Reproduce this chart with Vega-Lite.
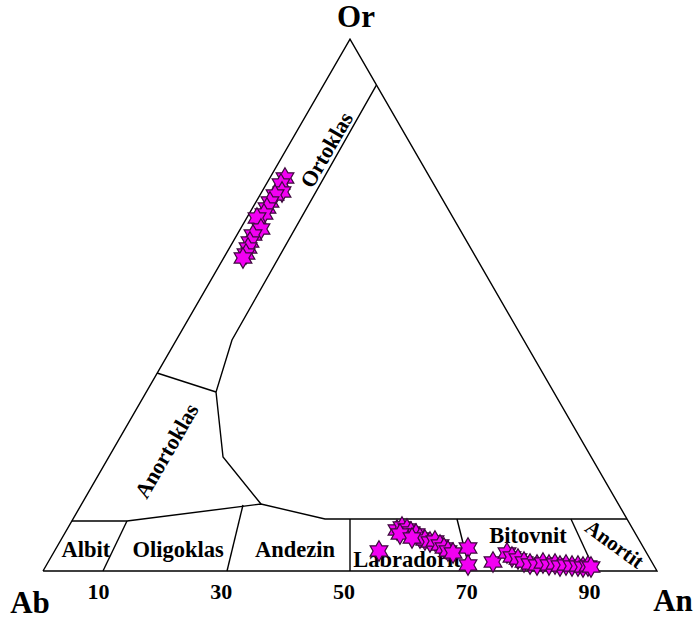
{
  "$schema": "https://vega.github.io/schema/vega-lite/v6.json",
  "width": 693,
  "height": 623,
  "autosize": "none",
  "padding": 0,
  "background": "white",
  "config": {"view": {"stroke": null}},
  "datasets": {
    "fields": [
      {"seg": "triangle", "i": 0, "x": 0, "y": 0},
      {"seg": "triangle", "i": 1, "x": 100, "y": 0},
      {"seg": "triangle", "i": 2, "x": 50, "y": 86.64},
      {"seg": "triangle", "i": 3, "x": 0, "y": 0},
      {"seg": "ortoklas", "i": 0, "x": 54.3, "y": 79.15},
      {"seg": "ortoklas", "i": 1, "x": 30.78, "y": 37.62},
      {"seg": "ortoklas", "i": 2, "x": 28.18, "y": 29.15},
      {"seg": "ortoklas", "i": 3, "x": 29.32, "y": 18.57},
      {"seg": "ortoklas", "i": 4, "x": 35.5, "y": 10.91},
      {"seg": "anortoklas", "i": 0, "x": 18.57, "y": 32.25},
      {"seg": "anortoklas", "i": 1, "x": 28.18, "y": 29.15},
      {"seg": "plagioklas", "i": 0, "x": 4.7, "y": 8.14},
      {"seg": "plagioklas", "i": 1, "x": 13.68, "y": 8.14},
      {"seg": "plagioklas", "i": 2, "x": 35.5, "y": 10.91},
      {"seg": "plagioklas", "i": 3, "x": 45.93, "y": 8.47},
      {"seg": "plagioklas", "i": 4, "x": 95.11, "y": 8.47},
      {"seg": "ab-ol", "i": 0, "x": 13.68, "y": 8.14},
      {"seg": "ab-ol", "i": 1, "x": 9.77, "y": 0},
      {"seg": "ol-ad", "i": 0, "x": 32.57, "y": 10.75},
      {"seg": "ol-ad", "i": 1, "x": 29.97, "y": 0},
      {"seg": "ad-lb", "i": 0, "x": 50, "y": 8.47},
      {"seg": "ad-lb", "i": 1, "x": 50, "y": 0},
      {"seg": "lb-bt", "i": 0, "x": 67.43, "y": 8.47},
      {"seg": "lb-bt", "i": 1, "x": 69.54, "y": 0},
      {"seg": "bt-an", "i": 0, "x": 85.99, "y": 8.47},
      {"seg": "bt-an", "i": 1, "x": 89.9, "y": 0}
    ],
    "samples": [
      {"group": "Ortoklas", "x": 39.41, "y": 64.01},
      {"group": "Ortoklas", "x": 38.76, "y": 63.03},
      {"group": "Ortoklas", "x": 38.93, "y": 61.73},
      {"group": "Ortoklas", "x": 37.79, "y": 61.24},
      {"group": "Ortoklas", "x": 36.97, "y": 60.1},
      {"group": "Ortoklas", "x": 36.48, "y": 59.12},
      {"group": "Ortoklas", "x": 35.99, "y": 58.14},
      {"group": "Ortoklas", "x": 34.85, "y": 57.49},
      {"group": "Ortoklas", "x": 35.5, "y": 55.7},
      {"group": "Ortoklas", "x": 34.2, "y": 54.72},
      {"group": "Ortoklas", "x": 33.71, "y": 53.58},
      {"group": "Ortoklas", "x": 33.39, "y": 52.61},
      {"group": "Ortoklas", "x": 33.06, "y": 51.63},
      {"group": "Ortoklas", "x": 32.57, "y": 50.98},
      {"group": "Labradorit", "x": 54.72, "y": 3.26},
      {"group": "Labradorit", "x": 57.65, "y": 6.68},
      {"group": "Labradorit", "x": 58.47, "y": 7.17},
      {"group": "Labradorit", "x": 59.28, "y": 6.84},
      {"group": "Labradorit", "x": 59.93, "y": 6.35},
      {"group": "Labradorit", "x": 60.75, "y": 6.03},
      {"group": "Labradorit", "x": 61.4, "y": 5.37},
      {"group": "Labradorit", "x": 62.21, "y": 5.05},
      {"group": "Labradorit", "x": 63.03, "y": 4.72},
      {"group": "Labradorit", "x": 63.84, "y": 4.89},
      {"group": "Labradorit", "x": 64.66, "y": 4.23},
      {"group": "Labradorit", "x": 65.31, "y": 3.75},
      {"group": "Labradorit", "x": 65.96, "y": 3.26},
      {"group": "Labradorit", "x": 66.78, "y": 2.93},
      {"group": "Labradorit", "x": 69.22, "y": 3.75},
      {"group": "Labradorit", "x": 69.22, "y": 0.98},
      {"group": "Labradorit", "x": 58.14, "y": 6.03},
      {"group": "Labradorit", "x": 60.1, "y": 5.37},
      {"group": "Bitovnit", "x": 73.29, "y": 1.47},
      {"group": "Bitovnit", "x": 75.57, "y": 2.93},
      {"group": "Bitovnit", "x": 76.38, "y": 2.28},
      {"group": "Bitovnit", "x": 77.36, "y": 1.95},
      {"group": "Bitovnit", "x": 78.34, "y": 1.47},
      {"group": "Bitovnit", "x": 79.32, "y": 1.14},
      {"group": "Bitovnit", "x": 80.46, "y": 0.98},
      {"group": "Bitovnit", "x": 81.43, "y": 1.3},
      {"group": "Bitovnit", "x": 82.41, "y": 0.98},
      {"group": "Bitovnit", "x": 83.39, "y": 1.14},
      {"group": "Bitovnit", "x": 84.2, "y": 0.81},
      {"group": "Bitovnit", "x": 85.18, "y": 0.98},
      {"group": "Bitovnit", "x": 86.16, "y": 0.81},
      {"group": "Bitovnit", "x": 87.13, "y": 0.81},
      {"group": "Bitovnit", "x": 87.95, "y": 0.65},
      {"group": "Bitovnit", "x": 88.76, "y": 0.81},
      {"group": "Bitovnit", "x": 89.25, "y": 0.65}
    ]
  },
  "encoding": {
    "x": {"field": "x", "type": "quantitative", "axis": null,
          "scale": {"domain": [-7.003, 105.863], "nice": false, "zero": false}},
    "y": {"field": "y", "type": "quantitative", "axis": null,
          "scale": {"domain": [-8.47, 93.0], "nice": false, "zero": false}}
  },
  "layer": [
    {
      "data": {"name": "fields"},
      "mark": {"type": "line", "color": "black", "strokeWidth": 1.4, "clip": false},
      "encoding": {
        "detail": {"field": "seg"},
        "order": {"field": "i", "type": "quantitative"}
      }
    },
    {
      "data": {"values": [
        {"label": "10", "x": 10, "y": -3.42},
        {"label": "30", "x": 30, "y": -3.42},
        {"label": "50", "x": 50, "y": -3.42},
        {"label": "70", "x": 70, "y": -3.42},
        {"label": "90", "x": 90, "y": -3.42}
      ]},
      "mark": {"type": "text", "font": "Liberation Serif", "fontWeight": "bold", "fontSize": 22, "dx": -6, "baseline": "middle", "color": "black"},
      "encoding": {"text": {"field": "label"}}
    },
    {
      "data": {"values": [
        {"label": "Or", "x": 50.98, "y": 90.07},
        {"label": "Ab", "x": -2.12, "y": -5.3},
        {"label": "An", "x": 102.6, "y": -5.1}
      ]},
      "mark": {"type": "text", "font": "Liberation Serif", "fontWeight": "bold", "fontSize": 31, "baseline": "middle", "color": "black"},
      "encoding": {"text": {"field": "label"}}
    },
    {
      "data": {"values": [
        {"label": "Albit", "x": 7.0, "y": 3.42},
        {"label": "Oligoklas", "x": 21.99, "y": 3.42},
        {"label": "Andezin", "x": 41.04, "y": 3.42},
        {"label": "Labradorit", "x": 59.28, "y": 1.79},
        {"label": "Bitovnit", "x": 78.99, "y": 5.7}
      ]},
      "mark": {"type": "text", "font": "Liberation Serif", "fontWeight": "bold", "fontSize": 22.5, "baseline": "middle", "color": "black"},
      "encoding": {"text": {"field": "label"}}
    },
    {
      "data": {"values": [
        {"label": "Ortoklas", "x": 46.25, "y": 68.57},
        {"label": "Anortoklas", "x": 20.2, "y": 19.54}
      ]},
      "mark": {"type": "text", "font": "Liberation Serif", "fontWeight": "bold", "fontSize": 22, "angle": 300, "baseline": "middle", "color": "black"},
      "encoding": {"text": {"field": "label"}}
    },
    {
      "data": {"values": [
        {"label": "Anortit", "x": 93.0, "y": 4.23}
      ]},
      "mark": {"type": "text", "font": "Liberation Serif", "fontWeight": "bold", "fontSize": 21, "angle": 36, "baseline": "middle", "color": "black"},
      "encoding": {"text": {"field": "label"}}
    },
    {
      "data": {"name": "samples"},
      "mark": {
        "type": "point",
        "shape": "M0,-1L0.289,-0.5L0.866,-0.5L0.577,0L0.866,0.5L0.289,0.5L0,1L-0.289,0.5L-0.866,0.5L-0.577,0L-0.866,-0.5L-0.289,-0.5Z",
        "size": 420,
        "filled": true,
        "fill": "#f200f2",
        "stroke": "#3d0a3d",
        "strokeWidth": 1.2,
        "opacity": 1,
        "clip": false
      },
      "encoding": {"detail": {"field": "group"}}
    }
  ]
}
